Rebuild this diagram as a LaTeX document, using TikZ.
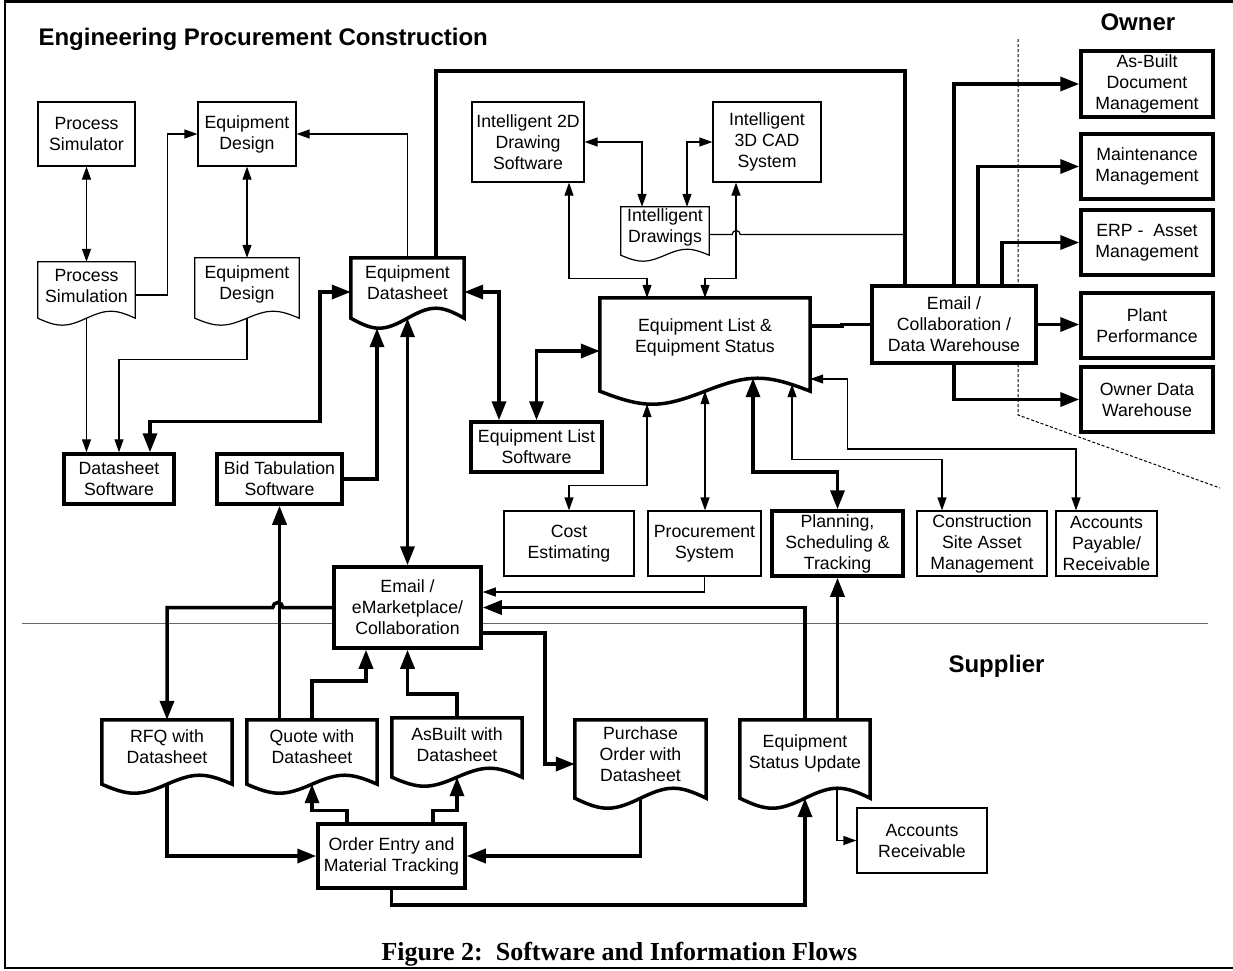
\documentclass[tikz,border=0pt]{standalone}
\usepackage{fontspec}
\setmainfont{Liberation Sans}
\newfontfamily\capfont{Liberation Serif}
\usetikzlibrary{arrows.meta, calc}

\tikzset{
  tline/.style = {line width=1.2pt, >={Triangle[length=13pt, width=9pt]}},
  bline/.style = {line width=3.5pt, >={Triangle[length=19pt, width=14pt]}},
  box/.style = {draw, fill=white, tline, rectangle, align=center, inner sep=0pt},
  bbox/.style = {box, bline},
  doc/.style = {rectangle, align=center, inner sep=0pt},
  ownerbox/.style = {bbox, minimum width=132, minimum height=65},
  every node/.style = {font=\fontsize{17.7}{21}\selectfont}
}

% outline of a document shape: node, drop of the wave ends, height of the wave
\newcommand{\docoutline}[4][]{%
  \draw[#1] let \p1 = (#2.north west), \p2 = (#2.south east),
      \n1 = {0.21*(\x2-\x1)}, \n2 = {(\x2-\x1)/2} in
    (\x1,\y2) -- (\x1,\y1) -- (\x2,\y1) -- (\x2,\y2) -- ++(0,#3)
    .. controls +(-\n1,-1.333*#4) and +(\n1,-1.333*#4) .. ++(-\n2,0)
    .. controls +(-\n1,1.333*#4) and +(\n1,1.333*#4) .. ++(-\n2,0) -- cycle;
}

\begin{document}
\begin{tikzpicture}[x=1pt, y=-1pt]
    \useasboundingbox (0,0) rectangle (1233,970);

    %% Software and information flows

    % Frame and dividers
    \draw[line width=2.5pt] (1233,1.5) -- (5,1.5) -- (5,968) -- (1233,968);
    \draw[line width=1pt, black!60] (22,623) -- (1208,623);
    \draw[line width=1pt, dash pattern=on 3pt off 2pt] (1018,39) -- (1018,415) -- (1220,488);

    % Headings
    \node[anchor=base west, font=\fontsize{24}{28}\selectfont\bfseries] (title) at (35,45) {Engineering Procurement Construction};
    \node[anchor=base west, font=\fontsize{24}{28}\selectfont\bfseries] (owner) at (1097,30) {Owner};
    \node[anchor=base west, font=\fontsize{24}{28}\selectfont\bfseries] (supplier) at (945,672) {Supplier};
    \node[anchor=base west, font=\capfont\fontsize{26}{30}\selectfont\bfseries] (caption) at (378,960) {Figure 2:\ \ Software and Information Flows};

    % Design tools
    \node[box, minimum width=97, minimum height=64] (psor) at (86.5,134) {Process\\Simulator};
    \node[box, minimum width=98, minimum height=64] (edsg) at (247,134) {Equipment\\Design};
    \node[doc, minimum width=97, minimum height=48] (psim) at (86.5,286) {Process\\Simulation};
    \node[doc, minimum width=104, minimum height=52] (eddoc) at (247,284) {Equipment\\Design};
    \node[doc, minimum width=113, minimum height=50] (dsheet) at (407.5,283) {Equipment\\Datasheet};
    \node[bbox, minimum width=110, minimum height=50] (dssw) at (119,479) {Datasheet\\Software};
    \node[bbox, minimum width=125, minimum height=50] (bidtab) at (279.5,479) {Bid Tabulation\\Software};

    % Drawing tools
    \node[box, minimum width=112, minimum height=80] (i2d) at (528,142) {Intelligent 2D\\Drawing\\Software};
    \node[box, minimum width=108, minimum height=80] (i3d) at (767,142) {Intelligent\\3D CAD\\System};
    \node[doc, minimum width=88, minimum height=41] (idraw) at (665,227.5) {Intelligent\\Drawings};

    % Equipment list and its users
    \node[doc, minimum width=210, minimum height=78] (eqlist) at (705,337) {Equipment List \&\\Equipment Status};
    \node[bbox, minimum width=131, minimum height=50] (els) at (536.5,447) {Equipment List\\Software};
    \node[box, minimum width=130, minimum height=65] (cost) at (569,543.5) {Cost\\Estimating};
    \node[box, minimum width=113, minimum height=65] (proc) at (704.5,543.5) {Procurement\\System};
    \node[bbox, minimum width=131, minimum height=65] (plan) at (837.5,543.5) {Planning,\\Scheduling \&\\Tracking};
    \node[box, minimum width=130, minimum height=65] (cons) at (982,543.5) {Construction\\Site Asset\\Management};
    \node[box, minimum width=101, minimum height=65] (ap) at (1106.5,543.5) {Accounts\\Payable/\\Receivable};

    % Owner
    \node[bbox, minimum width=164, minimum height=77] (ecdw) at (954,324.5) {Email /\\Collaboration /\\Data Warehouse};
    \node[ownerbox, minimum height=66] (asb) at (1147,84) {As-Built\\Document\\Management};
    \node[ownerbox] (maint) at (1147,166.5) {Maintenance\\Management};
    \node[ownerbox] (erp) at (1147,242.5) {ERP -~ Asset\\Management};
    \node[ownerbox] (perf) at (1147,325.5) {Plant\\Performance};
    \node[ownerbox] (odw) at (1147,399.5) {Owner Data\\Warehouse};

    % Supplier
    \node[bbox, minimum width=147, minimum height=81] (emkt) at (407.5,607.5) {Email /\\eMarketplace/\\Collaboration};
    \node[doc, minimum width=130, minimum height=54] (rfq) at (167,747) {RFQ with\\Datasheet};
    \node[doc, minimum width=130, minimum height=54] (quote) at (312,747) {Quote with\\Datasheet};
    \node[doc, minimum width=130, minimum height=54] (asbuilt) at (457,745) {AsBuilt with\\Datasheet};
    \node[doc, minimum width=131, minimum height=68] (po) at (640.5,754) {Purchase\\Order with\\Datasheet};
    \node[doc, minimum width=130, minimum height=67] (esu) at (805,753.5) {Equipment\\Status Update};
    \node[bbox, minimum width=147, minimum height=64] (oe) at (391.5,856) {Order Entry and\\Material Tracking};
    \node[box, minimum width=130, minimum height=65] (ar) at (922,840.5) {Accounts\\Receivable};

    % Document outlines
    \docoutline[tline]{psim}{8}{7}
    \docoutline[tline]{eddoc}{8}{7}
    \docoutline[bline]{dsheet}{10}{10}
    \docoutline[tline]{idraw}{7}{6}
    \docoutline[bline]{eqlist}{15}{13}
    \docoutline[bline]{rfq}{10}{9}
    \docoutline[bline]{quote}{10}{9}
    \docoutline[bline]{asbuilt}{5}{9}
    \docoutline[bline]{po}{10}{10}
    \docoutline[bline]{esu}{11}{10}

    % Thin connectors
    \draw[tline, <->] (psor.south) -- (psim.north);
    \draw[tline, <->] (edsg.south) -- (eddoc.north);
    \draw[tline, ->] ([yshift=-9pt]psim.east) -- ++(32,0) |- (edsg.west);
    \draw[tline, ->] (dsheet.north) |- (edsg.east);
    \draw[tline, ->] ([yshift=-8pt]psim.south) -- (psim.south |- dssw.north);
    \draw[tline, ->] ([yshift=-8pt]eddoc.south) -- ++(0,41) -| (dssw.north);
    \draw[tline, <->] (i2d.east) -| ([xshift=-23pt]idraw.north);
    \draw[tline, <->] (i3d.west) -| ([xshift=22pt]idraw.north);
    \draw[tline, <->] ([xshift=41pt]i2d.south) -- ++(0,96) -| ([xshift=-58pt]eqlist.north);
    \draw[tline, <->] ([xshift=-31pt]i3d.south) -- ++(0,96) -| (eqlist.north);
    \draw[tline] ([yshift=-7pt]idraw.east) -- ++(23,0) arc[start angle=180, end angle=0, radius=4pt] -- ++(165,0);
    \draw[tline, <->] ([xshift=-58pt, yshift=-28pt]eqlist.south) -- ++(0,81) -| (cost.north);
    \draw[tline, <->] ([yshift=-15pt]eqlist.south) -- (eqlist.south |- proc.north);
    \draw[tline, <->] ([xshift=87pt, yshift=-8pt]eqlist.south) -- ++(0,75) -| ([xshift=-40pt]cons.north);
    \draw[tline, <->] ([yshift=-42pt]eqlist.east) -- ++(37,0) -- ++(0,70) -| ([xshift=-30.5pt]ap.north);
    \draw[tline, ->] (proc.south) |- ([yshift=15.5pt]emkt.east);
    \draw[tline, ->] ([xshift=32pt, yshift=-1pt]esu.south) |- (ar.west);

    % Thick connectors, owner side
    \coordinate (dwline) at ([xshift=-49pt]ecdw.north);
    \draw[bline] ([xshift=28.5pt]dsheet.north) -- ++(0,-187) -| (dwline);
    \draw[bline] ([yshift=11pt]eqlist.east) -- ++(32,0) |- (ecdw.west);
    \draw[bline, ->] (ecdw.north) |- (asb.west);
    \draw[bline, ->] ([xshift=24pt]ecdw.north) |- (maint.west);
    \draw[bline, ->] ([xshift=48pt]ecdw.north) |- (erp.west);
    \draw[bline, ->] (ecdw.east) -- (ecdw.east -| perf.west);
    \draw[bline, ->] (ecdw.south) |- (odw.west);

    % Thick connectors, engineering side
    \draw[bline, <->] ([xshift=31pt]dssw.north) -- ++(0,-31) -- ++(170,0) |- ([yshift=-9pt]dsheet.west);
    \draw[bline, <->] ([yshift=-9pt]dsheet.east) -| ([xshift=-37.5pt]els.north);
    \draw[bline, <->] (els.north) |- ([yshift=-14pt]eqlist.west);
    \draw[bline, ->] (bidtab.east) -| ([xshift=-30.5pt, yshift=-20pt]dsheet.south);
    \draw[bline, <->] ([yshift=-10pt]dsheet.south) -- (emkt.north);
    \draw[bline, <->] ([xshift=48pt, yshift=-2pt]eqlist.south) -- ++(0,94) -| (plan.north);

    % Thick connectors, supplier side
    \draw[bline, ->] (quote.north -| bidtab.south) -- (bidtab.south);
    \draw[bline, ->] (emkt.west) -- ++(-49.5,0) arc[start angle=0, end angle=180, radius=5pt] -| (rfq.north);
    \draw[bline, ->] (quote.north) -- ++(0,-39) -| ([xshift=-41.5pt]emkt.south);
    \draw[bline, ->] (asbuilt.north) -- ++(0,-24) -| (emkt.south);
    \draw[bline, ->] ([yshift=-25.5pt]emkt.east) -- ++(62,0) |- ([yshift=-10pt]po.west);
    \draw[bline, ->] (esu.north) |- (emkt.east);
    \draw[bline, ->] (esu.north -| plan.south) -- (plan.south);
    \draw[bline, ->] ([yshift=-10pt]rfq.south) |- (oe.west);
    \draw[bline, ->] ([xshift=-44.5pt]oe.north) -- ++(0,-12) -| ([yshift=-10pt]quote.south);
    \draw[bline, ->] ([xshift=41.5pt]oe.north) -- ++(0,-12) -| ([yshift=-5pt]asbuilt.south);
    \draw[bline, ->] ([yshift=-10pt]po.south) |- (oe.east);
    \draw[bline, ->] (oe.south) -- ++(0,15) -| ([yshift=-11pt]esu.south);

\end{tikzpicture}
\end{document}
